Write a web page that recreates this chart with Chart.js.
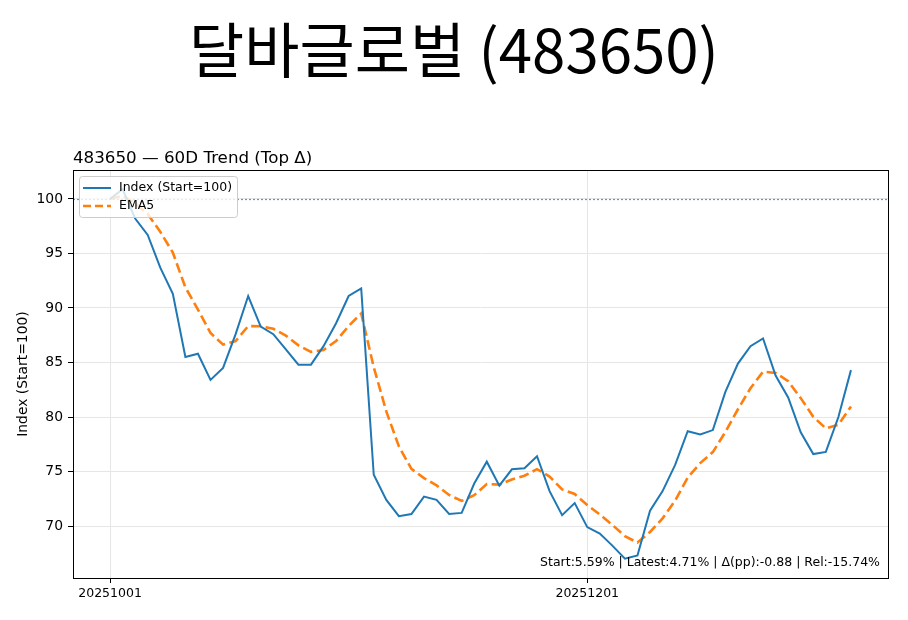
<!DOCTYPE html>
<html>
<head>
<meta charset="utf-8">
<script src="https://cdn.jsdelivr.net/npm/chart.js@4.4.1/dist/chart.umd.min.js"></script>
<style>
  html, body { margin: 0; padding: 0; background: #fff; }
  #wrap { width: 908px; height: 620px; position: relative; }
</style>
</head>
<body>
<div id="wrap"><canvas id="myChart"></canvas></div>
<script>
const chartTitle = "달바글로벌 (483650)";
const subTitle = "483650 — 60D Trend (Top Δ)";
const statText = "Start:5.59% | Latest:4.71% | Δ(pp):-0.88 | Rel:-15.74%";

// trading days (x categories)
const dates = [
    "20251001", "20251002", "20251010", "20251013", "20251014", "20251015", "20251016", "20251017",
    "20251020", "20251021", "20251022", "20251023", "20251024", "20251027", "20251028", "20251029",
    "20251030", "20251031", "20251103", "20251104", "20251105", "20251106", "20251107", "20251110",
    "20251111", "20251112", "20251113", "20251114", "20251117", "20251118", "20251119", "20251120",
    "20251121", "20251124", "20251125", "20251126", "20251127", "20251128", "20251201", "20251202",
    "20251203", "20251204", "20251205", "20251208", "20251209", "20251210", "20251211", "20251212",
    "20251215", "20251216", "20251217", "20251218", "20251219", "20251222", "20251223", "20251224",
    "20251226", "20251229", "20251230", "20260102"
];

const indexValues = [
    100.0, 100.9, 98.2, 96.7, 93.7, 91.3, 85.5, 85.8, 83.4, 84.5,
    87.6, 91.1, 88.3, 87.6, 86.2, 84.8, 84.8, 86.5, 88.6, 91.1,
    91.8, 74.7, 72.4, 70.9, 71.1, 72.7, 72.4, 71.1, 71.2, 73.9,
    75.9, 73.7, 75.2, 75.3, 76.4, 73.2, 71.0, 72.1, 69.9, 69.3,
    68.2, 67.0, 67.3, 71.4, 73.2, 75.6, 78.7, 78.4, 78.8, 82.3,
    84.9, 86.5, 87.2, 83.8, 81.8, 78.6, 76.6, 76.8, 80.0, 84.3
];

const emaValues = [
    100.00, 100.30, 99.60, 98.63, 96.99, 95.09, 91.89, 89.86, 87.71, 86.64,
    86.96, 88.34, 88.33, 88.09, 87.46, 86.57, 85.98, 86.15, 86.97, 88.35,
    89.50, 84.57, 80.51, 77.31, 75.24, 74.39, 73.73, 72.85, 72.30, 72.83,
    73.85, 73.80, 74.27, 74.61, 75.21, 74.54, 73.36, 72.94, 71.93, 71.05,
    70.10, 69.07, 68.48, 69.45, 70.70, 72.33, 74.45, 75.77, 76.78, 78.62,
    80.71, 82.64, 84.16, 84.04, 83.29, 81.73, 80.02, 78.95, 79.30, 80.97
];

const yTicks = [70, 75, 80, 85, 90, 95, 100];
const baseLine = 100;

const legendItems = [
    { text: "Index (Start=100)", color: "#1f77b4", dash: [], width: 2 },
    { text: "EMA5", color: "#ff7f0e", dash: [8, 4], width: 2.6 }
];

// x ticks only at the first of the month
const xTickIdx = [];
dates.forEach((d, i) => {
    if (d.endsWith("01")) xTickIdx.push(i);
});

const latin = '"DejaVu Sans", sans-serif';

const decorPlugin = {
    id: "decor",
    beforeDraw(chart) {
        const ctx = chart.ctx;
        ctx.save();
        ctx.fillStyle = "#fff";
        ctx.fillRect(0, 0, chart.width, chart.height);
        ctx.restore();
    },
    beforeDatasetsDraw(chart) {
        // dotted reference line at 100
        const ctx = chart.ctx;
        const a = chart.chartArea;
        const y = Math.round(chart.scales.y.getPixelForValue(baseLine)) + 0.5;
        ctx.save();
        ctx.strokeStyle = "rgba(31,119,180,0.75)";
        ctx.lineWidth = 1.2;
        ctx.setLineDash([2, 2]);
        ctx.beginPath();
        ctx.moveTo(a.left, y);
        ctx.lineTo(a.right, y);
        ctx.stroke();
        ctx.restore();
    },
    afterDraw(chart) {
        const ctx = chart.ctx;
        const a = chart.chartArea;
        ctx.save();

        // frame
        ctx.strokeStyle = "#000";
        ctx.lineWidth = 1;
        ctx.strokeRect(Math.round(a.left) + 0.5, Math.round(a.top) + 0.5,
            Math.round(a.right - a.left), Math.round(a.bottom - a.top));

        // legend
        const lx = a.left + 6, ly = a.top + 6;
        ctx.fillStyle = "rgba(255,255,255,0.8)";
        ctx.strokeStyle = "#cccccc";
        ctx.beginPath();
        ctx.roundRect(lx + 0.5, ly + 0.5, 158, 41, 3);
        ctx.fill();
        ctx.stroke();
        ctx.font = "12.5px " + latin;
        ctx.textBaseline = "middle";
        ctx.textAlign = "left";
        legendItems.forEach((it, i) => {
            const y = ly + 12 + i * 18;
            ctx.strokeStyle = it.color;
            ctx.lineWidth = it.width;
            ctx.setLineDash(it.dash);
            ctx.beginPath();
            ctx.moveTo(lx + 4, y);
            ctx.lineTo(lx + 32, y);
            ctx.stroke();
            ctx.setLineDash([]);
            ctx.fillStyle = "#000";
            ctx.fillText(it.text, lx + 40, y);
        });

        // titles
        ctx.fillStyle = "#000";
        ctx.textAlign = "center";
        ctx.textBaseline = "middle";
        ctx.font = '60px "Noto Sans CJK KR", sans-serif';
        ctx.fillText(chartTitle, chart.width / 2, 50);

        ctx.textAlign = "left";
        ctx.textBaseline = "alphabetic";
        ctx.font = "16.7px " + latin;
        ctx.fillText(subTitle, a.left, 163);

        // stats line
        ctx.textAlign = "right";
        ctx.textBaseline = "middle";
        ctx.font = "12.5px " + latin;
        ctx.fillText(statText, a.right - 8, a.bottom - 15);
        ctx.restore();
    }
};

const config = {
    type: "line",
    data: {
        datasets: [
            {
                label: legendItems[0].text,
                data: indexValues.map((v, i) => ({ x: i, y: v })),
                borderColor: legendItems[0].color,
                borderWidth: legendItems[0].width,
                pointRadius: 0,
                tension: 0
            },
            {
                label: legendItems[1].text,
                data: emaValues.map((v, i) => ({ x: i, y: v })),
                borderColor: legendItems[1].color,
                borderWidth: legendItems[1].width,
                borderDash: [10, 4.5],
                pointRadius: 0,
                tension: 0
            }
        ]
    },
    options: {
        responsive: true,
        maintainAspectRatio: false,
        animation: false,
        devicePixelRatio: 1,
        layout: {
            padding: { top: 170, right: 20, left: 0, bottom: 0 }
        },
        plugins: {
            legend: { display: false },
            tooltip: { enabled: false }
        },
        scales: {
            x: {
                type: "linear",
                min: -2.95,
                max: dates.length - 1 + 2.95,
                afterBuildTicks: function(scale) {
                    scale.ticks = xTickIdx.map(v => ({ value: v }));
                },
                afterFit: function(scale) {
                    scale.height = 42;
                },
                ticks: {
                    autoSkip: false,
                    maxRotation: 0,
                    padding: 3,
                    color: "#000",
                    font: { family: latin, size: 12.5 },
                    callback: function(v) {
                        return dates[v] || "";
                    }
                },
                grid: {
                    color: "#e6e6e6",
                    lineWidth: 1,
                    tickColor: "#000",
                    tickLength: 5
                },
                border: { display: false }
            },
            y: {
                min: 65.23,
                max: 102.66,
                afterBuildTicks: function(scale) {
                    scale.ticks = yTicks.map(v => ({ value: v }));
                },
                afterFit: function(scale) {
                    scale.width = 73;
                },
                ticks: {
                    padding: 5,
                    color: "#000",
                    font: { family: latin, size: 13.9 }
                },
                grid: {
                    color: "#e6e6e6",
                    lineWidth: 1,
                    tickColor: "#000",
                    tickLength: 5
                },
                border: { display: false },
                title: {
                    display: true,
                    text: "Index (Start=100)",
                    color: "#000",
                    font: { family: latin, size: 13.9 },
                    padding: { top: 15, bottom: 0 }
                }
            }
        }
    },
    plugins: [decorPlugin]
};

const myChart = new Chart(document.getElementById("myChart"), config);
</script>
</body>
</html>
